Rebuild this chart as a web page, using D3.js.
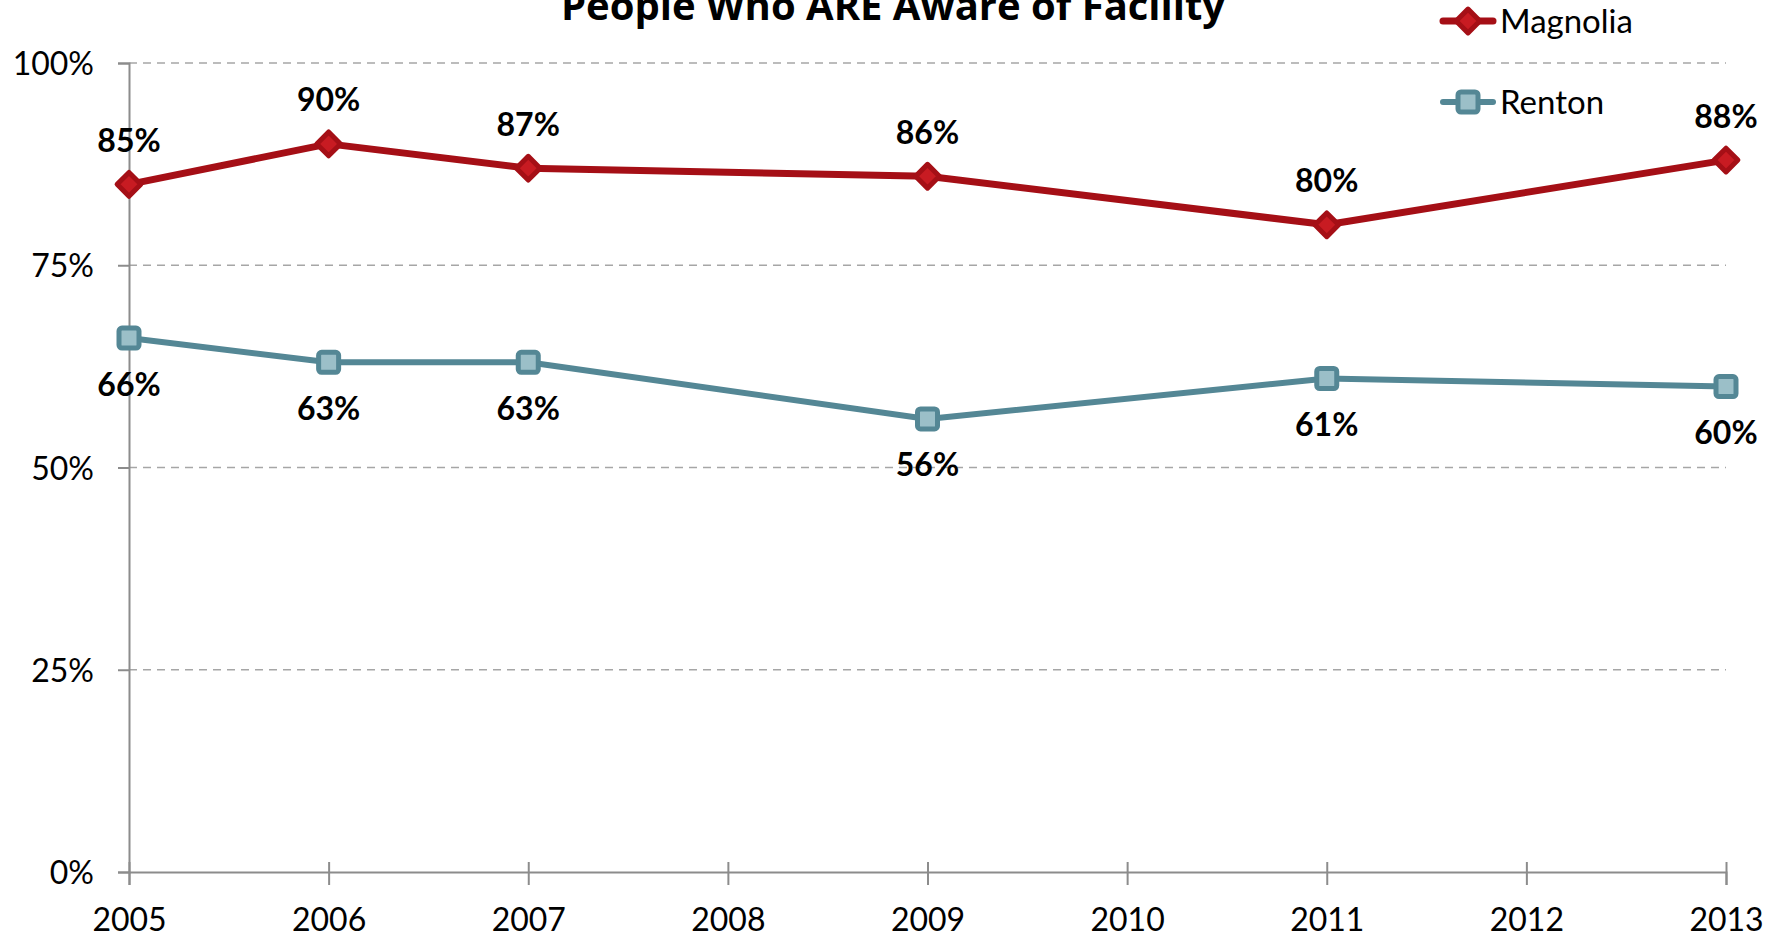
<!DOCTYPE html>
<html>
<head>
<meta charset="utf-8">
<script src="https://cdn.jsdelivr.net/npm/d3@7"></script>
<style>
  body { margin: 0; background: #fff; }
  svg { display: block; }
</style>
</head>
<body>
<svg width="1775" height="935"></svg>
<script>
const years = [2005, 2006, 2007, 2009, 2011, 2013];
const magnolia = [85, 90, 87, 86, 80, 88];
const renton = [66, 63, 63, 56, 61, 60];
const yTicks = [0, 25, 50, 75, 100];
const xTicks = [2005, 2006, 2007, 2008, 2009, 2010, 2011, 2012, 2013];
const title = 'People Who ARE Aware of Facility';

const margin = { left: 129, right: 49, top: 63, bottom: 63 };
const svg = d3.select('svg');
const width = +svg.attr('width');
const height = +svg.attr('height');
const innerWidth = width - margin.left - margin.right;
const innerHeight = height - margin.top - margin.bottom;

const g = svg.append('g')
  .attr('transform', `translate(${margin.left}, ${margin.top})`);

const xScale = d3.scaleLinear().domain([2005, 2013]).range([0, innerWidth]);
const yScale = d3.scaleLinear().domain([0, 100]).range([innerHeight, 0]);

const font = 'Lato, Calibri, sans-serif';

// gridlines
g.append('g').selectAll('line')
  .data(yTicks.filter(d => d > 0))
  .join('line')
    .attr('x1', 0).attr('x2', innerWidth)
    .attr('y1', d => yScale(d)).attr('y2', d => yScale(d))
    .attr('stroke', '#a6a6a6')
    .attr('stroke-width', 1.5)
    .attr('stroke-dasharray', '8,6');

// y axis
const yAxisG = g.append('g')
  .call(d3.axisLeft(yScale).tickValues(yTicks).tickFormat(d => d + '%').tickSize(11).tickPadding(24));
// x axis
const xAxisG = g.append('g')
  .attr('transform', `translate(0, ${innerHeight})`)
  .call(d3.axisBottom(xScale).tickValues(xTicks).tickFormat(d3.format('d')).tickSize(13).tickPadding(23));
xAxisG.selectAll('.tick line').attr('y1', -10);

[yAxisG, xAxisG].forEach(a => {
  a.select('.domain').attr('stroke', '#8c8c8c').attr('stroke-width', 2);
  a.selectAll('.tick line').attr('stroke', '#8c8c8c').attr('stroke-width', 2);
  a.selectAll('.tick text')
    .attr('fill', '#000')
    .style('font-family', font)
    .style('font-size', '32px');
});
yAxisG.selectAll('.tick text').attr('dy', '0.36em');

const line = d3.line()
  .x((d, i) => xScale(years[i]))
  .y(d => yScale(d));

// Renton
g.append('path')
  .datum(renton)
  .attr('fill', 'none')
  .attr('stroke', '#548795')
  .attr('stroke-width', 6)
  .attr('stroke-linejoin', 'round')
  .attr('d', line);
g.append('g').selectAll('rect')
  .data(renton)
  .join('rect')
    .attr('x', (d, i) => xScale(years[i]) - 10)
    .attr('y', d => yScale(d) - 10)
    .attr('width', 20).attr('height', 20)
    .attr('rx', 3)
    .attr('fill', '#9bbfc8')
    .attr('stroke', '#548795')
    .attr('stroke-width', 5);
g.append('g').selectAll('text')
  .data(renton)
  .join('text')
    .attr('x', (d, i) => xScale(years[i]))
    .attr('y', d => yScale(d) + 46)
    .attr('dy', '0.36em')
    .attr('text-anchor', 'middle')
    .style('font-family', font)
    .style('font-weight', 'bold')
    .style('font-size', '32px')
    .text(d => d + '%');

// Magnolia
g.append('path')
  .datum(magnolia)
  .attr('fill', 'none')
  .attr('stroke', '#a50f16')
  .attr('stroke-width', 7)
  .attr('stroke-linejoin', 'round')
  .attr('d', line);
const diamond = d3.symbol().type(d3.symbolDiamond2).size(360);
g.append('g').selectAll('path')
  .data(magnolia)
  .join('path')
    .attr('d', diamond)
    .attr('transform', (d, i) => `translate(${xScale(years[i])}, ${yScale(d)})`)
    .attr('fill', '#c81b22')
    .attr('stroke', '#a50f16')
    .attr('stroke-width', 5)
    .attr('stroke-linejoin', 'round');
g.append('g').selectAll('text')
  .data(magnolia)
  .join('text')
    .attr('x', (d, i) => xScale(years[i]))
    .attr('y', d => yScale(d) - 44)
    .attr('dy', '0.36em')
    .attr('text-anchor', 'middle')
    .style('font-family', font)
    .style('font-weight', 'bold')
    .style('font-size', '32px')
    .text(d => d + '%');

// title
svg.append('text')
  .attr('x', 893)
  .attr('y', 20)
  .attr('text-anchor', 'middle')
  .style('font-family', '"Open Sans", sans-serif')
  .style('font-weight', 'bold')
  .style('font-size', '40px')
  .text(title);

// legend
const legend = [
  { name: 'Magnolia', y: 21, color: '#a50f16', fill: '#c81b22', shape: 'diamond' },
  { name: 'Renton', y: 102, color: '#548795', fill: '#9bbfc8', shape: 'square' }
];
const lg = svg.append('g').selectAll('g').data(legend).join('g')
  .attr('transform', d => `translate(1443, ${d.y})`);
lg.append('line')
  .attr('x1', 0).attr('x2', 50)
  .attr('stroke', d => d.color)
  .attr('stroke-width', d => d.shape === 'diamond' ? 7 : 6)
  .attr('stroke-linecap', 'round');
lg.filter(d => d.shape === 'diamond').append('path')
  .attr('d', diamond)
  .attr('transform', 'translate(25, 0)')
  .attr('fill', d => d.fill)
  .attr('stroke', d => d.color)
  .attr('stroke-width', 5)
  .attr('stroke-linejoin', 'round');
lg.filter(d => d.shape === 'square').append('rect')
  .attr('x', 15).attr('y', -10).attr('width', 20).attr('height', 20).attr('rx', 3)
  .attr('fill', d => d.fill)
  .attr('stroke', d => d.color)
  .attr('stroke-width', 5);
lg.append('text')
  .attr('x', 57)
  .attr('dy', '0.36em')
  .style('font-family', font)
  .style('font-size', '33px')
  .text(d => d.name);
</script>
</body>
</html>
